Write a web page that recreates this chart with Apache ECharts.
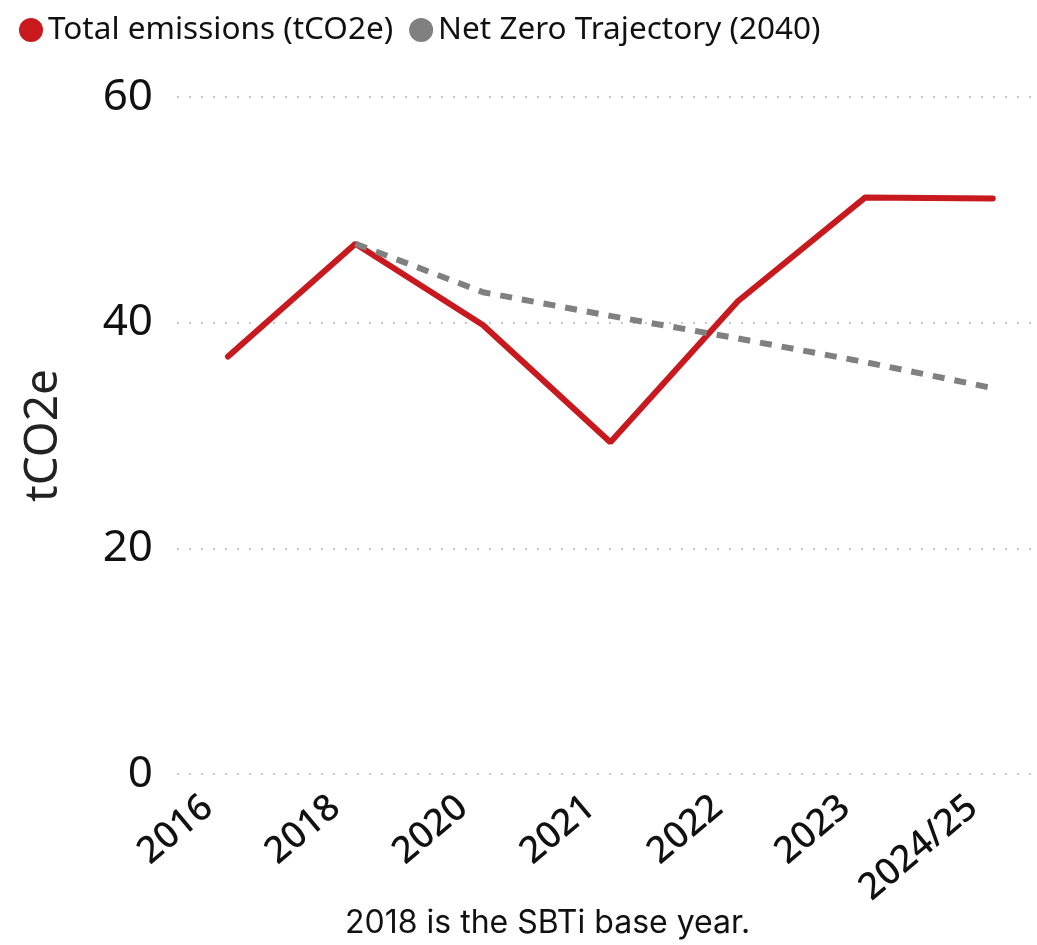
<!DOCTYPE html>
<html>
<head>
<meta charset="utf-8">
<script src="https://cdn.jsdelivr.net/npm/echarts@6/dist/echarts.min.js"></script>
<style>
  html, body { margin: 0; padding: 0; background: #fff; }
  #chart { width: 1037px; height: 945px; }
</style>
</head>
<body>
<div id="chart"></div>
<script>
// data
const years = ['2016', '2018', '2020', '2021', '2022', '2023', '2024/25'];
const totalEmissions = [37, 47, 39.8, 29.4, 41.9, 51.1, 51.0];
const netZero = [null, 47, 42.7, 40.6, 38.6, 36.5, 34.2];
const yTicks = [0, 20, 40, 60];

// index-based points so the categories can sit inside a wider grid
function toPoints(arr) {
    const pts = [];
    arr.forEach(function (v, i) {
        pts.push([i, v]);
    });
    return pts;
}

const chart = echarts.init(document.getElementById('chart'));
const font = '"Noto Sans", sans-serif';

chart.setOption({
    animation: false,
    legend: {
        left: 14,
        top: 9,
        icon: 'circle',
        itemWidth: 24,
        itemHeight: 24,
        itemGap: 16,
        textStyle: { fontFamily: font, fontSize: 31.5, color: '#111' },
        data: ['Total emissions (tCO2e)', 'Net Zero Trajectory (2040)']
    },
    title: {
        text: '2018 is the SBTi base year.',
        left: 340,
        bottom: 1,
        textStyle: { fontFamily: 'Inter, sans-serif', fontSize: 32, fontWeight: 'normal', color: '#111' }
    },
    grid: { left: 177, right: 6, top: 97, bottom: 171 },
    xAxis: {
        type: 'value',
        min: -0.4,
        max: 6.3,
        axisLine: { show: false },
        axisTick: { show: false },
        splitLine: { show: false },
        axisLabel: {
            customValues: [0, 1, 2, 3, 4, 5, 6],
            rotate: 40,
            margin: 12,
            padding: [0, 26, 0, 0],
            fontFamily: font,
            fontSize: 37,
            fontWeight: 500,
            color: '#111',
            formatter: function (v) { return years[v]; }
        }
    },
    yAxis: {
        type: 'value',
        min: yTicks[0],
        max: yTicks[yTicks.length - 1],
        interval: 20,
        name: 'tCO2e',
        nameLocation: 'middle',
        nameGap: 110,
        nameTextStyle: { fontFamily: font, fontSize: 46, color: '#222' },
        axisLine: { show: false },
        axisTick: { show: false },
        axisLabel: { fontFamily: font, fontSize: 44, color: '#111', margin: 24 },
        splitLine: { lineStyle: { color: '#c8c8c8', width: 2, type: [2, 10] } }
    },
    series: [
        {
            name: 'Total emissions (tCO2e)',
            type: 'line',
            data: toPoints(totalEmissions),
            showSymbol: false,
            color: '#c8191e',
            lineStyle: { width: 6, cap: 'round' }
        },
        {
            name: 'Net Zero Trajectory (2040)',
            type: 'line',
            data: toPoints(netZero),
            showSymbol: false,
            color: '#808080',
            lineStyle: { width: 6, type: [12, 10] }
        }
    ]
});
</script>
</body>
</html>
